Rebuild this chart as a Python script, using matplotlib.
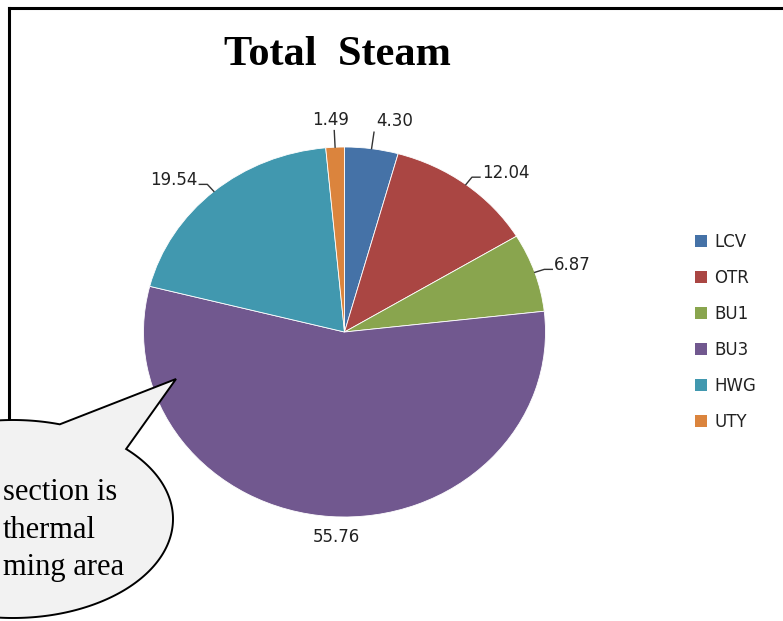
import matplotlib
matplotlib.use("Agg")
import matplotlib.pyplot as plt
from matplotlib.patches import Patch, Polygon
import numpy as np

# ---- data ----
categories = ["LCV", "OTR", "BU1", "BU3", "HWG", "UTY"]
values = [4.30, 12.04, 6.87, 55.76, 19.54, 1.49]
colors = ["#4572A7", "#AA4643", "#89A54E", "#71588F", "#4198AF", "#DB843D"]
title = "Total  Steam"
callout_lines = ["section is", "thermal", "ming area"]

W, H = 783, 621
fig = plt.figure(figsize=(W / 100, H / 100), dpi=100)
fig.patch.set_facecolor("white")


def fx(px):
    return px / W


def fy(py):
    return 1 - py / H


# ---- pie (slightly stretched horizontally) ----
cx, cy, rx, ry = 344.5, 332, 201, 185
ax = fig.add_axes([fx(cx - rx), fy(cy + ry), 2 * rx / W, 2 * ry / H], zorder=1)
wedges, _ = ax.pie(values, colors=colors, startangle=90, counterclock=False,
                   radius=1, wedgeprops=dict(edgecolor="white", linewidth=0.6))
ax.set_aspect("auto")
ax.set_xlim(-1, 1)
ax.set_ylim(-1, 1)
ax.axis("off")

label_color = "#222222"
for w, v in zip(wedges, values):
    t = np.radians((w.theta1 + w.theta2) / 2)
    c, s = np.cos(t), np.sin(t)
    txt = f"{v:.2f}"
    if s < -0.9:
        # bottom label sits right under the slice, no leader
        ax.text(c * 0.6, -1.06, txt, ha="center", va="top", fontsize=12,
                color=label_color, clip_on=False)
        continue
    p1 = (c, s)
    if abs(c) > 0.3:
        p2 = (c * 1.05, s * 1.05)
        d = np.sign(c) * 0.04
        xs = [p1[0], p2[0], p2[0] + d]
        ys = [p1[1], p2[1], p2[1]]
        ax.text(p2[0] + d + np.sign(c) * 0.01, p2[1] + 0.025, txt,
                ha="left" if c > 0 else "right", va="center", fontsize=12,
                color=label_color, clip_on=False)
    else:
        p2 = (c * 1.09, s * 1.09)
        xs = [p1[0], p2[0]]
        ys = [p1[1], p2[1]]
        ha = "center" if abs(c) < 0.1 else "left"
        ax.text(p2[0] + (0.01 if ha == "left" else -0.02), p2[1] + 0.01, txt,
                ha=ha, va="bottom", fontsize=12, color=label_color, clip_on=False)
    ax.plot(xs, ys, color="#333333", lw=1.0, clip_on=False)

# ---- legend ----
handles = [Patch(facecolor=col, edgecolor="none") for col in colors]
fig.legend(handles, categories, loc="center left",
           bbox_to_anchor=(fx(680), fy(332)), frameon=False, fontsize=12,
           handlelength=0.7, handleheight=0.7, handletextpad=0.45,
           labelspacing=1.08, labelcolor="#222222")

# ---- overlay: frame, title and callout bubble ----
ov = fig.add_axes([0, 0, 1, 1], zorder=3)
ov.set_xlim(0, W)
ov.set_ylim(H, 0)
ov.patch.set_alpha(0)
ov.axis("off")

ov.plot([9, W + 5], [8, 8], color="black", lw=2.2, solid_capstyle="projecting",
        zorder=1)
ov.plot([9, 9], [8, 500], color="black", lw=2.2, solid_capstyle="projecting",
        zorder=1)

ov.text(337, 55, title, fontfamily="Liberation Serif", fontweight="bold",
        fontsize=30.5, ha="center", va="center", color="black")

bcx, bcy, brx, bry = 13, 519, 160, 99
tip = (176, 379)
tt = np.radians(np.linspace(-45, 287, 300))
pts = np.column_stack([bcx + brx * np.cos(tt), bcy + bry * np.sin(tt)])
pts = np.vstack([pts, tip])
ov.add_patch(Polygon(pts, closed=True, facecolor="#F2F2F2", edgecolor="black",
                     lw=1.4, joinstyle="miter", zorder=5))

for line, yy in zip(callout_lines, [492, 530, 568]):
    ov.text(3, yy, line, fontfamily="Liberation Serif", fontsize=22,
            ha="left", va="center", color="black", zorder=6)

fig.savefig("out.png", dpi=100)
